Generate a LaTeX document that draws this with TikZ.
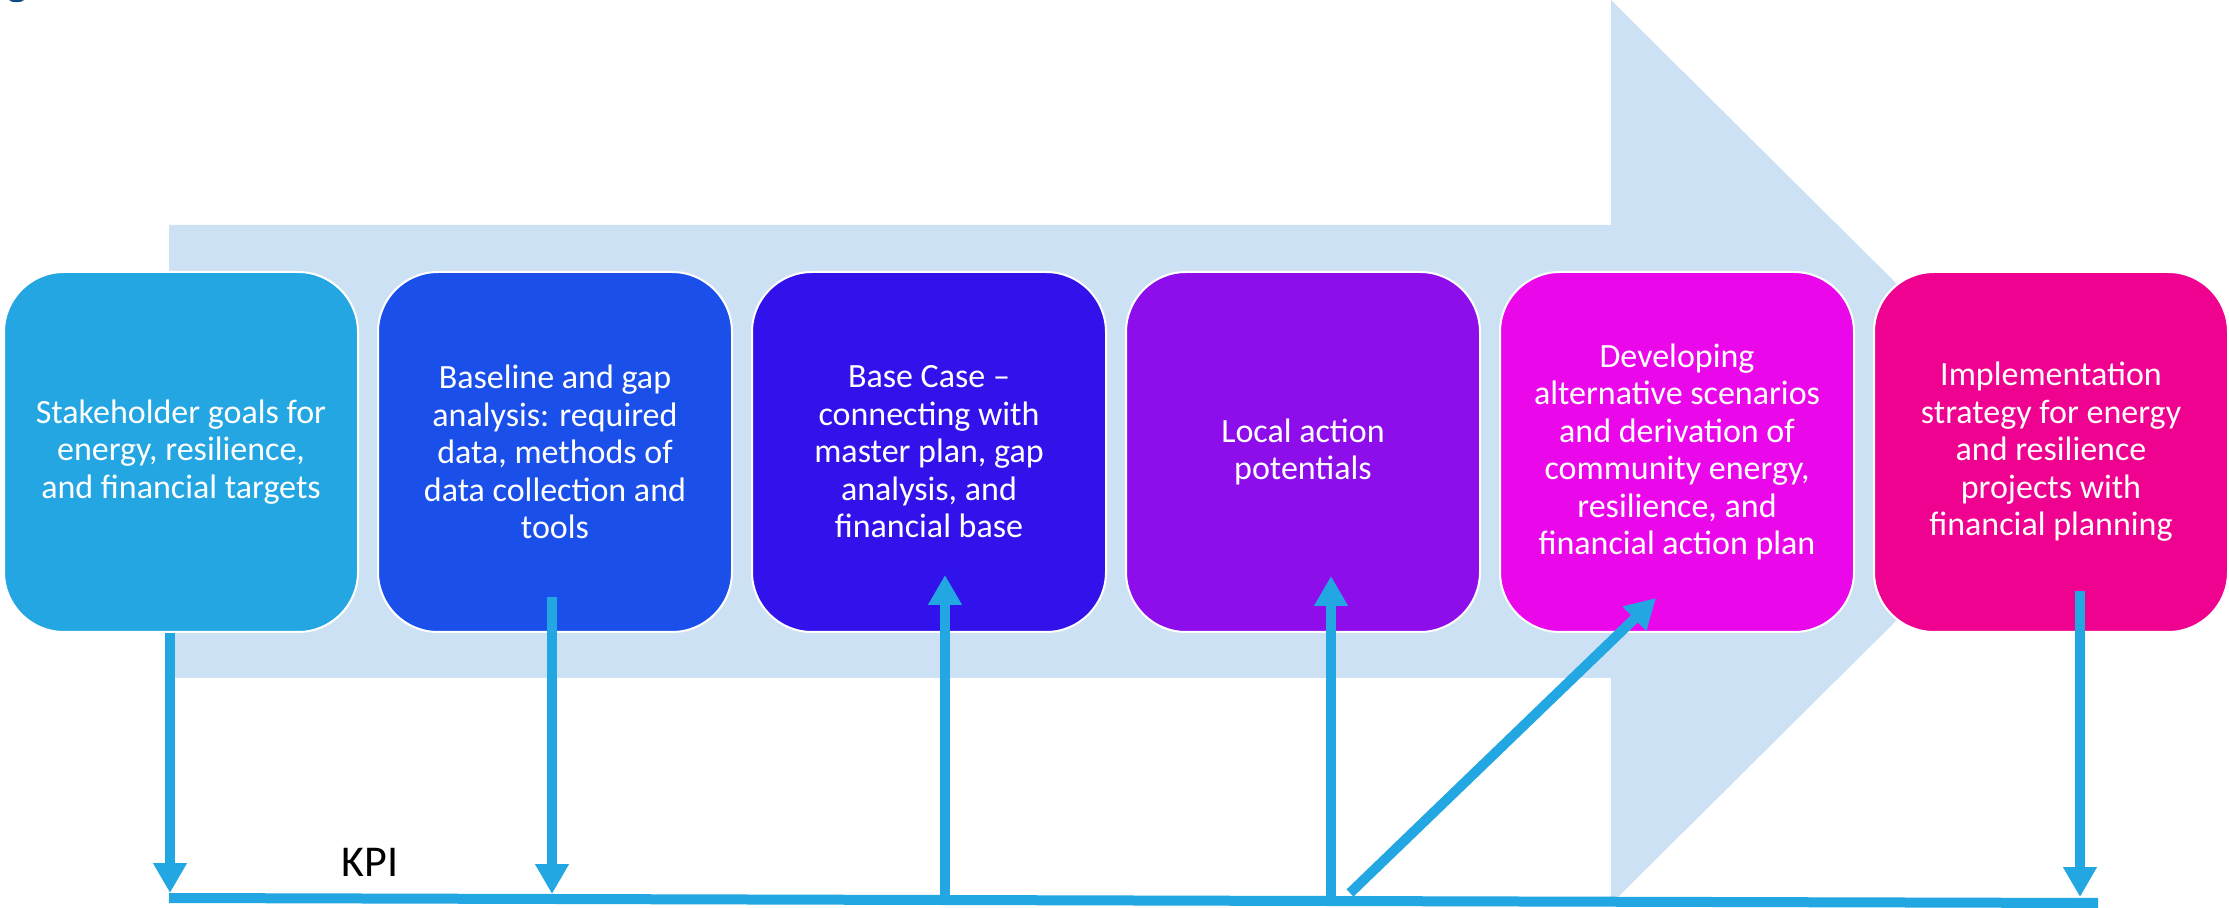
\documentclass[tikz,border=0pt]{standalone}
\usepackage{fontspec}
\setmainfont{Carlito}
\usetikzlibrary{arrows.meta}

\definecolor{bandblue}{RGB}{205,225,245}
\definecolor{linkblue}{RGB}{34,167,227}
\definecolor{stepA}{RGB}{35,166,226}
\definecolor{stepB}{RGB}{27,79,233}
\definecolor{stepC}{RGB}{50,18,234}
\definecolor{stepD}{RGB}{142,13,235}
\definecolor{stepE}{RGB}{234,8,235}
\definecolor{stepF}{RGB}{238,2,143}
\definecolor{inkdark}{RGB}{15,76,129}

\tikzset{
  stepbox/.style={draw=white, line width=1pt, rounded corners=30pt,
    minimum width=177pt, minimum height=180pt, inner sep=0pt,
    align=center, text=white, font=\fontsize{17}{18.75}\selectfont},
  link/.style={draw=linkblue, line width=5pt,
    -{Triangle[width=16pt,length=15pt]}},
  kpiline/.style={draw=linkblue, line width=5pt},
}

\begin{document}
\begin{tikzpicture}[x=0.5pt,y=-0.5pt]
\useasboundingbox (0,0) rectangle (2229,908);

% small dark mark at the top edge
\fill[inkdark] (9,0) .. controls (11,3) and (22,3) .. (24,0) -- cycle;

% broad process arrow in the background
\fill[bandblue] (169,225) -- (1611,225) -- (1611,0) -- (2066,452)
  -- (1611,904) -- (1611,678) -- (169,678) -- cycle;

% process steps
\node[stepbox, fill=stepA] (s1) at (181,452)
  {Stakeholder goals for\\energy, resilience,\\and financial targets};
\node[stepbox, fill=stepB] (s2) at (555,452)
  {Baseline and gap\\analysis: required\\data, methods of\\data collection and\\tools};
\node[stepbox, fill=stepC] (s3) at (929,452)
  {Base Case –\\connecting with\\master plan, gap\\analysis, and\\financial base};
\node[stepbox, fill=stepD] (s4) at (1303,452)
  {Local action\\potentials};
\node[stepbox, fill=stepE] (s5) at (1677,452)
  {Developing\\alternative scenarios\\and derivation of\\community energy,\\resilience, and\\financial action plan};
\node[stepbox, fill=stepF] (s6) at (2051,452)
  {Implementation\\strategy for energy\\and resilience\\projects with\\financial planning};

% KPI baseline
\coordinate (kpiL) at (169,898);
\coordinate (kpiR) at (2098,903);
\coordinate (k1) at (170,893);
\coordinate (k2) at (552,894);
\coordinate (k3) at (945,899);
\coordinate (k4) at (1331,900);
\coordinate (k5) at (1350,893);
\coordinate (k6) at (2080,897);
\draw[kpiline] (kpiL) -- (kpiR);
\node[font=\fontsize{22}{26}\selectfont, anchor=base] (kpi) at (370,877) {KPI};

% links between steps and KPI line
\draw[link] ([xshift=-5.5pt]s1.south) -- (k1);
\draw[link] ([xshift=-1.5pt,yshift=18pt]s2.south) -- (k2);
\draw[link] (k3) -- ([xshift=8pt,yshift=29pt]s3.south);
\draw[link] (k4) -- ([xshift=14pt,yshift=28.5pt]s4.south);
\draw[link] (k5) -- ([xshift=-10.5pt,yshift=17.5pt]s5.south);
\draw[link] ([xshift=14.5pt,yshift=21pt]s6.south) -- (k6);
\end{tikzpicture}
\end{document}
